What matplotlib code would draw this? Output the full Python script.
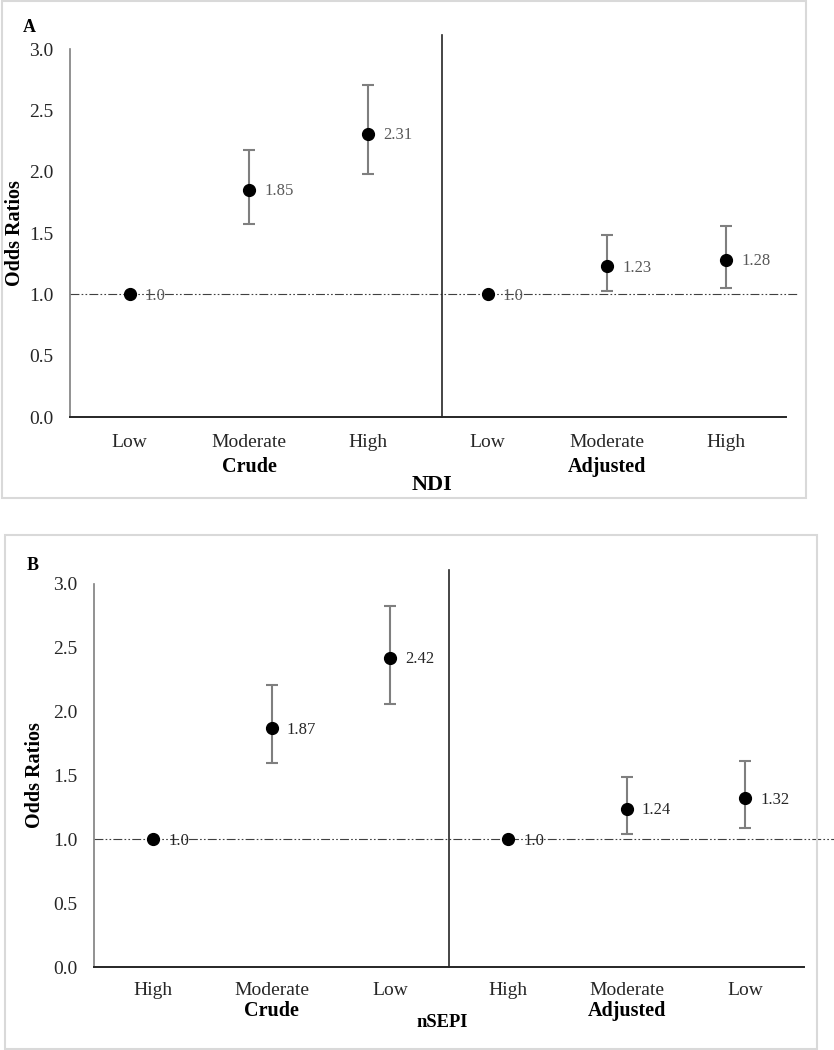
import numpy as np
import matplotlib
matplotlib.use("Agg")
import matplotlib.pyplot as plt
from matplotlib.patches import Rectangle
import matplotlib.transforms as mtransforms

plt.rcParams['font.family'] = ['Liberation Serif', 'DejaVu Serif']

# ---------------- data ----------------
cats_a = ['Low', 'Moderate', 'High', 'Low', 'Moderate', 'High']
or_a = [1.0, 1.85, 2.31, 1.0, 1.23, 1.28]
lo_a = [np.nan, 1.57, 1.98, np.nan, 1.03, 1.05]
hi_a = [np.nan, 2.18, 2.71, np.nan, 1.48, 1.56]
lab_a = ['1.0', '1.85', '2.31', '1.0', '1.23', '1.28']

cats_b = ['High', 'Moderate', 'Low', 'High', 'Moderate', 'Low']
or_b = [1.0, 1.87, 2.42, 1.0, 1.24, 1.32]
lo_b = [np.nan, 1.60, 2.06, np.nan, 1.04, 1.09]
hi_b = [np.nan, 2.21, 2.83, np.nan, 1.49, 1.61]
lab_b = ['1.0', '1.87', '2.42', '1.0', '1.24', '1.32']

groups = ['Crude', 'Adjusted']
yticks = [0.0, 0.5, 1.0, 1.5, 2.0, 2.5, 3.0]

W, H = 834, 1050
fig = plt.figure(figsize=(W / 100, H / 100), dpi=100)


def px_rect(l, t, r, b):
    return [l / W, 1 - b / H, (r - l) / W, (b - t) / H]


def panel(rect, border, cats, ors, los, his, labs, lab_color, letter, letter_xy,
          xtitle, xtitle_fs, xtitle_y, xtitle_x, group_y, div_x, div_top, ref_right,
          ylab_x, xpad):
    # border
    l, t, r, b = border
    fig.patches.append(Rectangle((l / W, 1 - b / H), (r - l) / W, (b - t) / H,
                                 transform=fig.transFigure, fill=False,
                                 edgecolor='#d9d9d9', lw=1.5))
    ax = fig.add_axes(px_rect(*rect))
    x = np.arange(len(cats))
    ax.set_xlim(-0.5, len(cats) - 0.5)
    ax.set_ylim(0, 3.0)
    for s in ['top', 'right']:
        ax.spines[s].set_visible(False)
    ax.spines['left'].set_color('#7f7f7f')
    ax.spines['left'].set_linewidth(1.2)
    ax.spines['bottom'].set_color('#262626')
    ax.spines['bottom'].set_linewidth(1.4)
    ax.set_yticks(yticks)
    ax.set_yticklabels([f'{v:.1f}' for v in yticks], fontsize=14, color='#262626')
    ax.set_xticks(x)
    ax.set_xticklabels(cats, fontsize=14, color='#262626')
    ax.tick_params(axis='y', length=0, pad=12)
    ax.tick_params(axis='x', length=0, pad=xpad)

    # reference line
    ax.plot([-0.5, ref_right], [1.0, 1.0], color='#404040', lw=0.8,
            linestyle=(0, (8, 2, 1.5, 2, 1.5, 2)), clip_on=False, zorder=1)
    # divider
    ax.plot([div_x, div_x], [0, div_top], color='#262626', lw=1.2,
            clip_on=False, zorder=1)

    ors = np.array(ors)
    los = np.array(los)
    his = np.array(his)
    m = ~np.isnan(los)
    ax.errorbar(x[m], ors[m], yerr=[ors[m] - los[m], his[m] - ors[m]], fmt='none',
                ecolor='#7f7f7f', elinewidth=1.5, capsize=4, capthick=1.5, zorder=2)
    ax.plot(x, ors, 'o', color='black', markersize=8.5, zorder=3)
    for xi, yi, lb in zip(x, ors, labs):
        ax.annotate(lb, (xi, yi), xytext=(11, -1), textcoords='offset points',
                    va='center', ha='left', fontsize=12, color=lab_color, zorder=4)

    trans = mtransforms.blended_transform_factory(ax.transData, ax.transAxes)
    ax.text(1, group_y, groups[0], transform=trans, ha='center', va='center',
            fontsize=14.5, fontweight='bold')
    ax.text(4, group_y, groups[1], transform=trans, ha='center', va='center',
            fontsize=14.5, fontweight='bold')
    ax.text(xtitle_x, xtitle_y, xtitle, transform=trans, ha='center', va='center',
            fontsize=xtitle_fs, fontweight='bold')

    ax.set_ylabel('Odds Ratios', fontsize=14.5, fontweight='bold')
    ax.yaxis.set_label_coords(ylab_x, 0.5)

    fig.text(letter_xy[0] / W, 1 - letter_xy[1] / H, letter, fontsize=13,
             fontweight='bold', ha='left', va='center')
    return ax


panel((70, 49, 786, 417), (2, 1, 806, 498), cats_a, or_a, lo_a, hi_a, lab_a, '#595959',
      'A', (23, 28), 'NDI', 16, -0.185, 2.53, -0.135, 2.615, 3.114, 5.6, -0.063, 12.5)

panel((94, 584, 804, 967), (5, 535, 817, 1049), cats_b, or_b, lo_b, hi_b, lab_b, '#262626',
      'B', (27, 565), 'nSEPI', 13.3, -0.146, 2.44, -0.115, 2.50, 3.109, 5.76, -0.069, 11)

fig.savefig('out.png', dpi=100, facecolor='white')
